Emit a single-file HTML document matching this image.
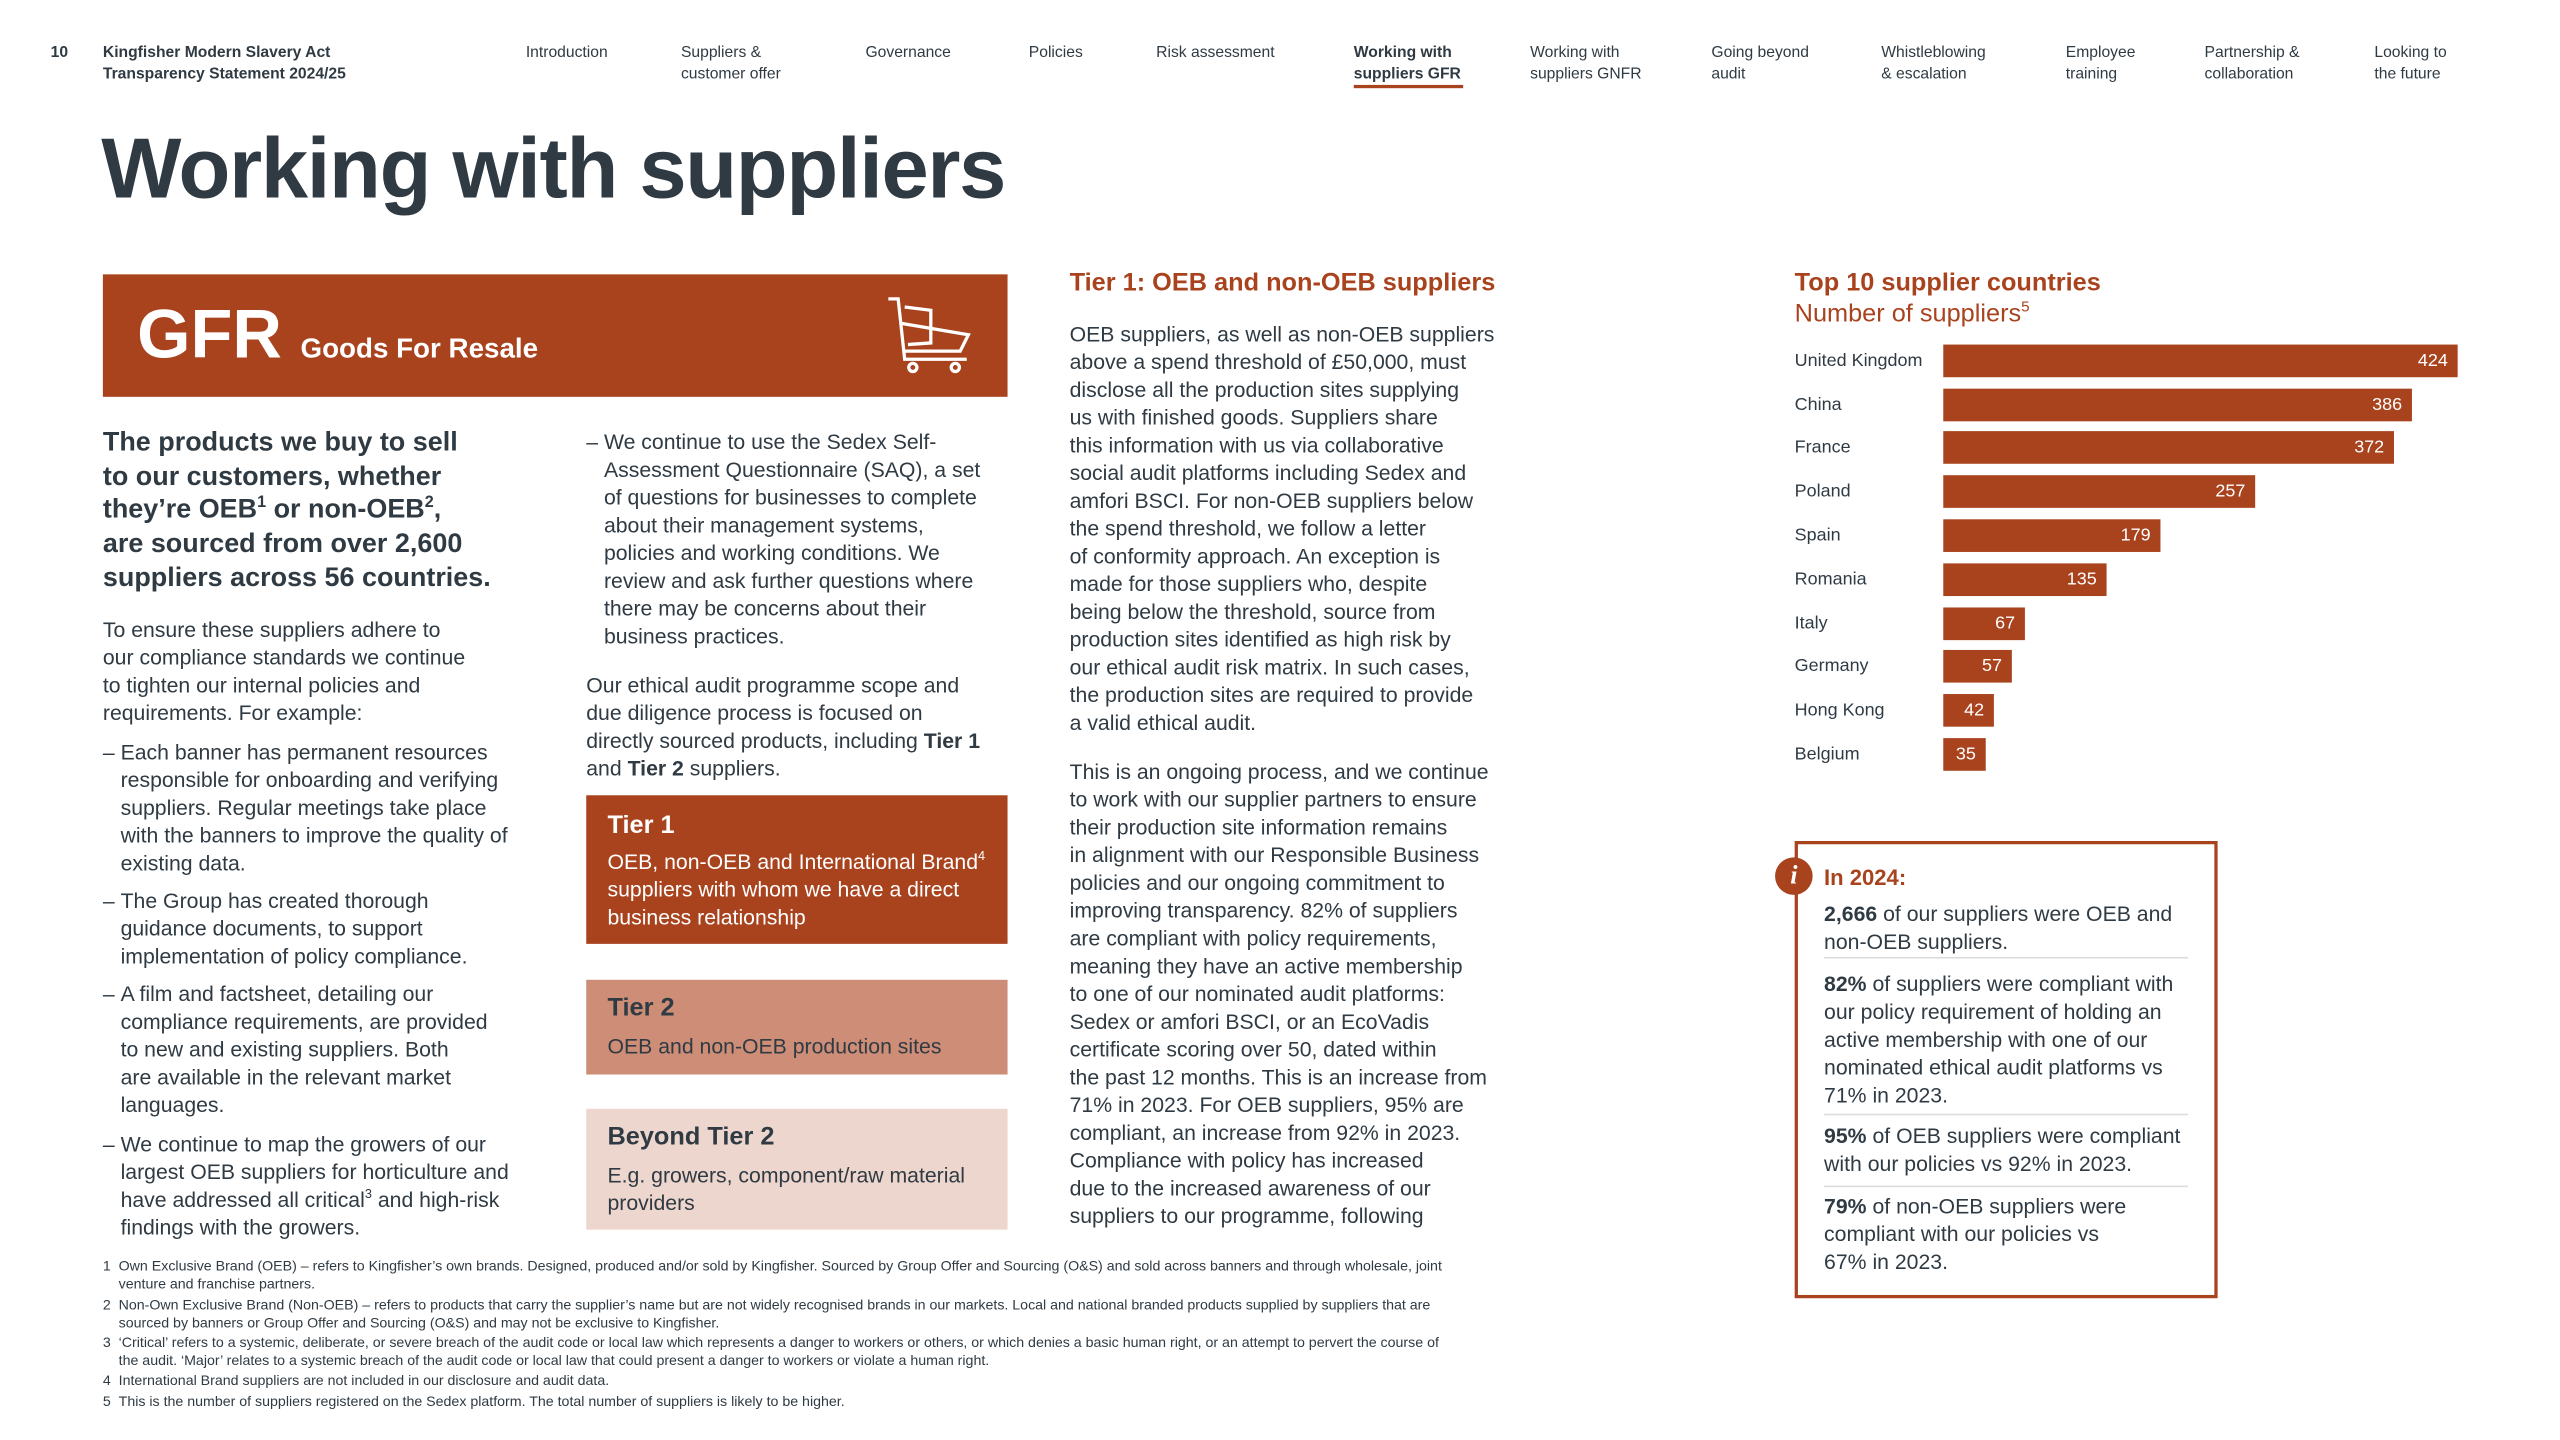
<!DOCTYPE html>
<html><head><meta charset="utf-8">
<style>
html,body{margin:0;padding:0;background:#fff;}
body{width:2560px;height:1440px;overflow:hidden;position:relative;}
#p{position:absolute;left:0;top:0;width:1568px;height:882px;transform:scale(1.633);transform-origin:0 0;font-family:"Liberation Sans",sans-serif;color:#2F3A43;}
.a{position:absolute;white-space:nowrap;}
.nav{font-size:9.6px;line-height:12.5px;color:#2F3A43;}
.b{font-size:13px;line-height:17px;}
.or{color:#A9431E;}
.bar{position:absolute;left:1190px;height:20px;background:#A9431E;color:#fff;font-size:11px;line-height:20px;text-align:right;box-sizing:border-box;padding-right:6px;}
.lab{position:absolute;left:1099px;font-size:11px;line-height:20px;color:#2F3A43;}
.fn{font-size:8.7px;line-height:10.5px;}
sup{font-size:60%;line-height:0;}
</style></head><body><div id="p">
<div class="a nav" style="left:31px;top:27px;font-weight:bold">10</div>
<div class="a nav" style="left:63px;top:27px;font-weight:bold">Kingfisher Modern Slavery Act<br>Transparency Statement 2024/25</div>
<div class="a nav" style="left:322px;top:27px">Introduction</div>
<div class="a nav" style="left:417px;top:27px">Suppliers &amp;<br>customer offer</div>
<div class="a nav" style="left:530px;top:27px">Governance</div>
<div class="a nav" style="left:630px;top:27px">Policies</div>
<div class="a nav" style="left:708px;top:27px">Risk assessment</div>
<div class="a nav" style="left:829px;top:27px;font-weight:bold">Working with<br>suppliers GFR</div>
<div style="position:absolute;left:829px;top:52px;width:67px;height:2px;background:#A9431E"></div>
<div class="a nav" style="left:937px;top:27px">Working with<br>suppliers GNFR</div>
<div class="a nav" style="left:1048px;top:27px">Going beyond<br>audit</div>
<div class="a nav" style="left:1152px;top:27px">Whistleblowing<br>&amp; escalation</div>
<div class="a nav" style="left:1265px;top:27px">Employee<br>training</div>
<div class="a nav" style="left:1350px;top:27px">Partnership &amp;<br>collaboration</div>
<div class="a nav" style="left:1454px;top:27px">Looking to<br>the future</div>

<div class="a" style="left:62px;top:72px;font-size:52px;line-height:64px;font-weight:bold;letter-spacing:-0.8px">Working with suppliers</div>

<div style="position:absolute;left:63px;top:168px;width:554px;height:75px;background:#A9431E"></div>
<div class="a" style="left:84px;top:180px;font-size:42px;line-height:50px;font-weight:bold;color:#fff">GFR</div>
<div class="a" style="left:184px;top:203px;font-size:17px;line-height:22px;font-weight:bold;color:#fff">Goods For Resale</div>
<svg style="position:absolute;left:540px;top:180px" width="58" height="52" viewBox="0 0 58 52" fill="none" stroke="#fff" stroke-width="2"><path d="M4 3 L10 3 L14 40 L52 40"/><path d="M12 18 L53 25 L48 35 L14 35"/><path d="M14 8 L30 10 L30 30 L16 31"/><circle cx="19" cy="45" r="2.5"/><circle cx="45" cy="45" r="2.5"/></svg>

<div class="a" style="left:63px;top:261px;font-size:16.5px;line-height:20.7px;font-weight:bold">The products we buy to sell<br>to our customers, whether<br>they’re OEB<sup>1</sup> or non-OEB<sup>2</sup>,<br>are sourced from over 2,600<br>suppliers across 56 countries.</div>
<div class="a b" style="left:63px;top:377px">To ensure these suppliers adhere to<br>our compliance standards we continue<br>to tighten our internal policies and<br>requirements. For example:</div>
<div class="a b" style="left:63px;top:452px">–&nbsp;Each banner has permanent resources<br>&nbsp;&nbsp;&nbsp;responsible for onboarding and verifying<br>&nbsp;&nbsp;&nbsp;suppliers. Regular meetings take place<br>&nbsp;&nbsp;&nbsp;with the banners to improve the quality of<br>&nbsp;&nbsp;&nbsp;existing data.</div>
<div class="a b" style="left:63px;top:543px">–&nbsp;The Group has created thorough<br>&nbsp;&nbsp;&nbsp;guidance documents, to support<br>&nbsp;&nbsp;&nbsp;implementation of policy compliance.</div>
<div class="a b" style="left:63px;top:600px">–&nbsp;A film and factsheet, detailing our<br>&nbsp;&nbsp;&nbsp;compliance requirements, are provided<br>&nbsp;&nbsp;&nbsp;to new and existing suppliers. Both<br>&nbsp;&nbsp;&nbsp;are available in the relevant market<br>&nbsp;&nbsp;&nbsp;languages.</div>
<div class="a b" style="left:63px;top:692px">–&nbsp;We continue to map the growers of our<br>&nbsp;&nbsp;&nbsp;largest OEB suppliers for horticulture and<br>&nbsp;&nbsp;&nbsp;have addressed all critical<sup>3</sup> and high-risk<br>&nbsp;&nbsp;&nbsp;findings with the growers.</div>

<div class="a b" style="left:359px;top:262px">–&nbsp;We continue to use the Sedex Self-<br>&nbsp;&nbsp;&nbsp;Assessment Questionnaire (SAQ), a set<br>&nbsp;&nbsp;&nbsp;of questions for businesses to complete<br>&nbsp;&nbsp;&nbsp;about their management systems,<br>&nbsp;&nbsp;&nbsp;policies and working conditions. We<br>&nbsp;&nbsp;&nbsp;review and ask further questions where<br>&nbsp;&nbsp;&nbsp;there may be concerns about their<br>&nbsp;&nbsp;&nbsp;business practices.</div>
<div class="a b" style="left:359px;top:411px">Our ethical audit programme scope and<br>due diligence process is focused on<br>directly sourced products, including <b>Tier 1</b><br>and <b>Tier 2</b> suppliers.</div>

<div style="position:absolute;left:359px;top:487px;width:258px;height:91px;background:#A9431E"></div>
<div class="a" style="left:372px;top:496px;font-size:15.5px;line-height:20px;font-weight:bold;color:#fff">Tier 1</div>
<div class="a b" style="left:372px;top:519px;color:#fff">OEB, non-OEB and International Brand<sup>4</sup><br>suppliers with whom we have a direct<br>business relationship</div>
<div style="position:absolute;left:359px;top:600px;width:258px;height:58px;background:#CD8D76"></div>
<div class="a" style="left:372px;top:608px;font-size:15.5px;line-height:20px;font-weight:bold">Tier 2</div>
<div class="a b" style="left:372px;top:632px">OEB and non-OEB production sites</div>
<div style="position:absolute;left:359px;top:679px;width:258px;height:74px;background:#EDD6CD"></div>
<div class="a" style="left:372px;top:687px;font-size:15.5px;line-height:20px;font-weight:bold">Beyond Tier 2</div>
<div class="a b" style="left:372px;top:711px">E.g. growers, component/raw material<br>providers</div>

<div class="a or" style="left:655px;top:164px;font-size:15.5px;line-height:20px;font-weight:bold">Tier 1: OEB and non-OEB suppliers</div>
<div class="a b" style="left:655px;top:196px">OEB suppliers, as well as non-OEB suppliers<br>above a spend threshold of £50,000, must<br>disclose all the production sites supplying<br>us with finished goods. Suppliers share<br>this information with us via collaborative<br>social audit platforms including Sedex and<br>amfori BSCI. For non-OEB suppliers below<br>the spend threshold, we follow a letter<br>of conformity approach. An exception is<br>made for those suppliers who, despite<br>being below the threshold, source from<br>production sites identified as high risk by<br>our ethical audit risk matrix. In such cases,<br>the production sites are required to provide<br>a valid ethical audit.</div>
<div class="a b" style="left:655px;top:464px">This is an ongoing process, and we continue<br>to work with our supplier partners to ensure<br>their production site information remains<br>in alignment with our Responsible Business<br>policies and our ongoing commitment to<br>improving transparency. 82% of suppliers<br>are compliant with policy requirements,<br>meaning they have an active membership<br>to one of our nominated audit platforms:<br>Sedex or amfori BSCI, or an EcoVadis<br>certificate scoring over 50, dated within<br>the past 12 months. This is an increase from<br>71% in 2023. For OEB suppliers, 95% are<br>compliant, an increase from 92% in 2023.<br>Compliance with policy has increased<br>due to the increased awareness of our<br>suppliers to our programme, following</div>

<div class="a or" style="left:1099px;top:164px;font-size:15.5px;line-height:20px;font-weight:bold">Top 10 supplier countries</div>
<div class="a or" style="left:1099px;top:183px;font-size:15.5px;line-height:20px">Number of suppliers<sup>5</sup></div>

<div class="lab" style="top:211px">United Kingdom</div><div class="bar" style="top:211px;width:315px">424</div>
<div class="lab" style="top:238px">China</div><div class="bar" style="top:238px;width:287px">386</div>
<div class="lab" style="top:264px">France</div><div class="bar" style="top:264px;width:276px">372</div>
<div class="lab" style="top:291px">Poland</div><div class="bar" style="top:291px;width:191px">257</div>
<div class="lab" style="top:318px">Spain</div><div class="bar" style="top:318px;width:133px">179</div>
<div class="lab" style="top:345px">Romania</div><div class="bar" style="top:345px;width:100px">135</div>
<div class="lab" style="top:372px">Italy</div><div class="bar" style="top:372px;width:50px">67</div>
<div class="lab" style="top:398px">Germany</div><div class="bar" style="top:398px;width:42px">57</div>
<div class="lab" style="top:425px">Hong Kong</div><div class="bar" style="top:425px;width:31px">42</div>
<div class="lab" style="top:452px">Belgium</div><div class="bar" style="top:452px;width:26px">35</div>

<div style="position:absolute;left:1099px;top:515px;width:259px;height:280px;box-sizing:border-box;border:2px solid #A9431E"></div>
<div style="position:absolute;left:1087px;top:525px;width:23px;height:23px;border-radius:50%;background:#A9431E;color:#fff;font:italic bold 16px/23px 'Liberation Serif',serif;text-align:center">i</div>
<div class="a or" style="left:1117px;top:529px;font-size:13.5px;line-height:18px;font-weight:bold">In 2024:</div>
<div class="a b" style="left:1117px;top:551px"><b>2,666</b> of our suppliers were OEB and<br>non-OEB suppliers.</div>
<div style="position:absolute;left:1117px;top:586px;width:223px;height:1px;background:#ddd"></div>
<div class="a b" style="left:1117px;top:594px"><b>82%</b> of suppliers were compliant with<br>our policy requirement of holding an<br>active membership with one of our<br>nominated ethical audit platforms vs<br>71% in 2023.</div>
<div style="position:absolute;left:1117px;top:682px;width:223px;height:1px;background:#ddd"></div>
<div class="a b" style="left:1117px;top:687px"><b>95%</b> of OEB suppliers were compliant<br>with our policies vs 92% in 2023.</div>
<div style="position:absolute;left:1117px;top:726px;width:223px;height:1px;background:#ddd"></div>
<div class="a b" style="left:1117px;top:730px"><b>79%</b> of non-OEB suppliers were<br>compliant with our policies vs<br>67% in 2023.</div>

<div class="a fn" style="left:63px;top:770px">1&nbsp;&nbsp;Own Exclusive Brand (OEB) – refers to Kingfisher’s own brands. Designed, produced and/or sold by Kingfisher. Sourced by Group Offer and Sourcing (O&amp;S) and sold across banners and through wholesale, joint<br>&nbsp;&nbsp;&nbsp;&nbsp;venture and franchise partners.</div>
<div class="a fn" style="left:63px;top:794px">2&nbsp;&nbsp;Non-Own Exclusive Brand (Non-OEB) – refers to products that carry the supplier’s name but are not widely recognised brands in our markets. Local and national branded products supplied by suppliers that are<br>&nbsp;&nbsp;&nbsp;&nbsp;sourced by banners or Group Offer and Sourcing (O&amp;S) and may not be exclusive to Kingfisher.</div>
<div class="a fn" style="left:63px;top:817px">3&nbsp;&nbsp;‘Critical’ refers to a systemic, deliberate, or severe breach of the audit code or local law which represents a danger to workers or others, or which denies a basic human right, or an attempt to pervert the course of<br>&nbsp;&nbsp;&nbsp;&nbsp;the audit. ‘Major’ relates to a systemic breach of the audit code or local law that could present a danger to workers or violate a human right.</div>
<div class="a fn" style="left:63px;top:840px">4&nbsp;&nbsp;International Brand suppliers are not included in our disclosure and audit data.</div>
<div class="a fn" style="left:63px;top:853px">5&nbsp;&nbsp;This is the number of suppliers registered on the Sedex platform. The total number of suppliers is likely to be higher.</div>
</div></body></html>
